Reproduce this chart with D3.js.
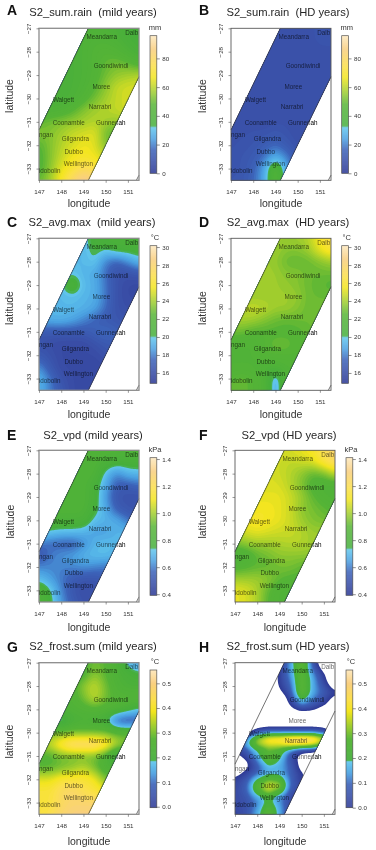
<!DOCTYPE html>
<html><head><meta charset="utf-8">
<script src="https://cdn.jsdelivr.net/npm/d3@7"></script>
<style>
html,body{margin:0;padding:0;background:#fff}
svg{display:block;filter:blur(.35px)}
text{font-family:"Liberation Sans",Arial,sans-serif;white-space:pre}
</style></head><body><div id="c"></div>
<script>
const lons=[147,147.5,148,148.5,149,149.5,150,150.5,151,151.5];
const lats=[-27,-27.5,-28,-28.5,-29,-29.5,-30,-30.5,-31,-31.5,-32,-32.5,-33,-33.5];
const latsFine=[-27,-27.25,-27.5,-27.75,-28,-28.25,-28.5,-28.75,-29,-29.25,-29.5,-29.75,-30,-30.25,-30.5,-30.75,-31,-31.25,-31.5,-31.75,-32,-32.25,-32.5,-32.75,-33,-33.25,-33.5];
const lonTicks=[147,148,149,150,151];
const latTicks=[-27,-28,-29,-30,-31,-32,-33];
const regionOutline=[[149.22,-27],[151.5,-27],[151.5,-29.07],[149.22,-33.5],[147,-33.5],[147,-31.35]];
const townNames=["Meandarra","Dalb","Goondiwindi","Moree","Walgett","Narrabri","Coonamble","Gunnedah","ngan","Gilgandra","Dubbo","Wellington","idobolin"];
const townLons=[149.82,151.17,150.24,149.81,148.1,149.75,148.34,150.23,147.32,148.64,148.56,148.77,147.48];
const townLats=[-27.36,-27.19,-28.6,-29.51,-30.06,-30.36,-31.03,-31.03,-31.57,-31.73,-32.27,-32.8,-33.11];
const rainTicks=[0,20,40,60,80], tempTicks=[16,18,20,22,24,26,28,30], vpdTicks=[.4,.6,.8,1,1.2,1.4], frostTicks=[0,.1,.2,.3,.4,.5];
const colourStops=[0,.09,.17,.25,.3,.335,.345,.5,.6,.7,.78,.9,1];
const colourValues=["#303c96","#3a50a8","#3c62b8","#4a9fe0","#56b6e8","#62c6ec","#45ae3c","#55b436","#a5cf2c","#f3e51e","#fbe04a","#f9cf80","#fde9c0"];

const rainMild=[
[40,40,40,40,40,42,42,40,37,34],
[40,40,40,40,42,44,44,42,38,35],
[40,40,40,40,42,46,48,46,42,38],
[40,40,40,40,42,46,50,52,50,45],
[40,40,40,40,42,46,52,56,58,60],
[40,40,40,40,43,48,55,62,64,64],
[38,38,39,41,46,52,58,62,64,64],
[42,43,44,48,54,58,60,62,64,64],
[50,52,54,56,58,60,58,56,58,60],
[54,54,58,62,64,66,52,48,50,52],
[48,54,60,64,68,66,54,50,50,50],
[46,54,62,68,70,68,62,55,50,50],
[46,55,66,72,78,76,66,55,50,50],
[50,58,70,82,92,85,70,55,50,50]];
const rainHD=[
[9,9,9,9,9,9,9,10,11,11],
[9,9,9,9,9,9,9,10,11,11],
[9,9,9,9,9,9,9,9,10,10],
[9,9,9,9,9,9,9,9,9,9],
[9,9,9,9,9,9,9,9,9,9],
[9,9,9,9,9,9,9,9,9,9],
[9,9,9,9,9,9,9,9,9,9],
[9,9,9,9,9,9,9,9,9,9],
[9,9,9,9,10,10,9,9,9,9],
[10,10,11,11,13,11,9,9,9,9],
[10,11,12,15,18,14,10,9,9,9],
[11,12,14,19,28,21,12,9,9,9],
[11,12,16,26,47,26,12,9,9,9],
[12,13,17,27,47,27,12,9,9,9]];
const tempMild=[
[19.5,19.5,19.5,19.5,19.7,20.8,21,21,21,21],
[19.5,19.5,19.5,19.5,19.6,20.6,20.1,20.8,20.8,20.9],
[19.5,19.5,19.5,19.6,19.6,20.1,18.2,17.5,18.5,19.6],
[19.5,19.5,19.6,20,19.5,19.2,17.8,16.5,16.5,17],
[19.5,19.5,19.9,21.5,19.7,19.3,18,16.5,16,15.8],
[19.5,19.5,19.6,19.8,19.5,19.3,18,16.5,16,16],
[19.5,19.5,19.6,19.6,19.4,19,17.8,16.5,16.3,16],
[19,19.3,19.4,19,18.3,17.5,17,16.8,16.5,16],
[17,17,17,17,17,17.5,18,17.5,17,17],
[16.5,16.2,16,16,16,16.5,17,17,17,17],
[17,16.5,16,16,16,16,16.5,17,17,17],
[18.5,17,16,16,16,15.8,16,16,16,16],
[19.5,18,16.5,16,16,15.8,16,16,16,16],
[19.5,18.2,17,16,16,16,16,16,16,16]];
const tempHD=[
[23.5,23.5,23.5,24,24,24,24,24.5,26,27],
[23.5,23.5,23.5,24,24,23.5,23.5,24,25.5,26.5],
[24,24,24,24,23.8,23,22.8,23,23.5,24],
[24,24,24,24,24,23.5,23.5,23,23,23],
[24,24,24,24,24,23.8,23.5,23,22.8,22.5],
[24,24,24,24,24,24,23.8,23,23,23],
[24,24.5,24.8,24.5,24,24,23.5,23,23,23],
[24,24.2,24,23.5,23,22.8,23,23,23,23],
[23,23,22.5,22.5,22.5,22.5,22.5,23,23,23],
[22,22,22,22.5,23,23,22.5,22.5,22.5,22.5],
[22,22,22,22.5,22.5,22.5,22.5,22.5,22.5,22.5],
[22,22,22,21.5,21.5,22,22,22,22,22],
[22.5,23,22.5,22,19,22,22,22,22,22],
[23,23,22.5,22,19,22,22,22,22,22]];
const vpdMild=[
[.85,.85,.85,.85,.85,.85,.85,.85,.85,.85],
[.85,.85,.85,.85,.85,.85,.82,.8,.8,.8],
[.85,.85,.85,.85,.85,.85,.72,.62,.7,.71],
[.85,.85,.85,.85,.85,.8,.68,.55,.55,.58],
[.85,.85,.85,.85,.85,.8,.65,.52,.5,.5],
[.85,.85,.85,.85,.85,.78,.68,.55,.52,.5],
[.82,.82,.82,.82,.82,.72,.7,.68,.6,.55],
[.76,.74,.72,.72,.7,.66,.66,.7,.7,.7],
[.6,.58,.56,.55,.62,.7,.72,.7,.7,.7],
[.52,.6,.64,.66,.7,.72,.72,.7,.7,.7],
[.62,.62,.62,.62,.64,.62,.6,.6,.6,.6],
[.72,.66,.6,.55,.52,.52,.55,.55,.55,.55],
[.84,.76,.62,.52,.48,.48,.5,.5,.5,.5],
[.84,.78,.65,.55,.5,.5,.5,.5,.5,.5]];
const vpdHD=[
[1.08,1.08,1.08,1.08,1.08,1.08,1.1,1.14,1.22,1.28],
[1.08,1.08,1.08,1.08,1.06,1.04,1.06,1.08,1.18,1.25],
[1.08,1.08,1.08,1.08,1.06,1.03,.98,.92,.95,1.05],
[1.08,1.08,1.08,1.08,1.08,1.03,.96,.88,.85,.85],
[1.1,1.1,1.1,1.1,1.1,1.06,1,.92,.88,.85],
[1.1,1.1,1.12,1.12,1.1,1.06,.98,.95,.92,.9],
[1.1,1.12,1.14,1.12,1.1,1.06,1,.96,.95,.92],
[1.03,1.08,1.1,1.08,1.06,1.06,1.03,1,1,1],
[.95,.98,1,1,1.02,1.03,1.03,1,1,1],
[.82,.85,.92,.95,.98,.98,.98,.98,.98,.98],
[.88,.9,.92,.92,.95,.95,.92,.9,.9,.9],
[1,1,1,.98,.92,.9,.9,.9,.9,.9],
[1.1,1.08,1.02,.92,.86,.86,.88,.9,.9,.9],
[1.1,1.08,1.02,.9,.86,.88,.9,.9,.9,.9]];
const frostMild=[
[.26,.26,.26,.26,.26,.3,.28,.24,.17,.14],
[.24,.24,.24,.24,.26,.32,.28,.24,.22,.2],
[.24,.24,.25,.26,.32,.36,.3,.25,.23,.23],
[.24,.24,.25,.26,.3,.36,.3,.27,.27,.27],
[.24,.24,.24,.25,.26,.27,.26,.25,.22,.18],
[.21,.2,.15,.22,.23,.22,.2,.08,.06,.08],
[.3,.3,.3,.3,.3,.3,.3,.28,.28,.28],
[.34,.36,.44,.5,.5,.5,.44,.35,.3,.3],
[.26,.27,.3,.3,.3,.3,.25,.14,.2,.2],
[.28,.28,.3,.32,.35,.3,.24,.24,.24,.24],
[.38,.38,.42,.42,.42,.4,.3,.3,.3,.3],
[.42,.42,.46,.48,.44,.42,.4,.4,.4,.4],
[.42,.42,.46,.48,.48,.48,.46,.46,.46,.46],
[.42,.44,.48,.5,.5,.5,.5,.5,.5,.5]];
const frostHD=[
[-.1,-.1,-.1,-.1,0,.15,.32,.08,-.1,-.1],
[-.1,-.1,-.1,-.1,.01,.15,.3,.1,-.04,-.1],
[-.1,-.1,-.1,-.1,.02,.14,.3,.14,.01,-.1],
[-.1,-.1,-.1,-.1,.02,.12,.3,.16,.03,-.1],
[-.1,-.1,-.1,-.1,.01,.1,.3,.16,.06,-.05],
[-.1,-.1,-.1,-.1,-.02,.08,.3,.16,.08,.02],
[-.1,-.1,-.1,-.1,-.08,.05,.24,.13,.06,-.02],
[-.1,-.1,-.1,-.1,-.1,.02,.14,.08,.03,-.08],
[-.1,-.1,-.1,-.1,-.1,-.03,.04,.02,-.05,-.1],
[-.1,-.1,-.1,-.1,-.1,-.08,-.08,-.08,-.08,-.1],
[-.1,-.1,-.1,-.1,-.1,-.1,-.1,-.1,-.1,-.1],
[-.1,-.1,-.03,0,0,0,0,0,-.02,-.1],
[-.1,-.04,.09,.14,.14,.14,.14,.14,.1,-.05],
[-.1,.12,.32,.42,.44,.48,.5,.48,.36,.1],
[-.01,.16,.32,.38,.38,.42,.42,.38,.28,.08],
[.01,.08,.2,.28,.26,.14,.05,.03,-.01,-.1],
[-.04,.04,.16,.3,.22,.06,-.04,-.06,-.1,-.1],
[-.08,-.02,.11,.24,.18,.07,-.04,-.06,-.1,-.1],
[-.08,-.02,.08,.17,.16,.09,-.03,-.06,-.1,-.1],
[-.04,.03,.1,.17,.17,.09,.01,-.05,-.1,-.1],
[.02,.07,.2,.29,.26,.1,.01,-.04,-.1,-.1],
[.03,.09,.27,.37,.34,.1,.03,-.04,-.1,-.1],
[.04,.09,.25,.35,.27,.08,.01,-.04,-.1,-.1],
[.04,.07,.16,.23,.14,.04,-.01,-.05,-.1,-.1],
[.04,.06,.12,.22,.14,.04,-.01,-.05,-.1,-.1],
[.04,.06,.14,.27,.16,.03,-.01,-.05,-.1,-.1],
[.02,.06,.16,.3,.16,.03,-.01,-.05,-.1,-.1]];

const specs=[
{letter:"A",title:"S2_sum.rain  (mild years)",unit:"mm",grid:rainMild,gLats:lats,dom:[0,95.8],ticks:rainTicks,fmt:d3.format("d"),x0:39,top:28.3,bot:180.3,bar:[150,35.7,173.3],tc:93,ty:12,letterX:7,letterY:15,latX:9,latY:96,lonY:207,tickY:194,frame:"g"},
{letter:"B",title:"S2_sum.rain  (HD years)",unit:"mm",grid:rainHD,gLats:lats,dom:[0,95.8],ticks:rainTicks,fmt:d3.format("d"),x0:231,top:28.3,bot:180.3,bar:[341.7,35.7,173.3],tc:288,ty:12,letterX:199,letterY:15,latX:202.7,latY:96,lonY:207,tickY:194,frame:"d"},
{letter:"C",title:"S2_avg.max  (mild years)",unit:"\u00b0C",grid:tempMild,gLats:lats,dom:[14.85,30.15],ticks:tempTicks,fmt:d3.format("d"),x0:39,top:238.3,bot:390.3,bar:[150,245.7,383.3],tc:92,ty:222,letterX:7,letterY:227,latX:9,latY:308,lonY:418,tickY:404,frame:"g"},
{letter:"D",title:"S2_avg.max  (HD years)",unit:"\u00b0C",grid:tempHD,gLats:lats,dom:[14.85,30.15],ticks:tempTicks,fmt:d3.format("d"),x0:231,top:238.3,bot:390.3,bar:[341.7,245.7,383.3],tc:288,ty:222,letterX:199,letterY:227,latX:202.7,latY:308,lonY:418,tickY:404,frame:"d"},
{letter:"E",title:"S2_vpd (mild years)",unit:"kPa",grid:vpdMild,gLats:lats,dom:[.392,1.41],ticks:vpdTicks,fmt:d3.format(".1f"),x0:39,top:450.3,bot:602,bar:[150,457.7,595.3],tc:93,ty:435,letterX:7,letterY:440,latX:10,latY:521.7,lonY:631,tickY:616,frame:"g"},
{letter:"F",title:"S2_vpd (HD years)",unit:"kPa",grid:vpdHD,gLats:lats,dom:[.392,1.41],ticks:vpdTicks,fmt:d3.format(".1f"),x0:235,top:450.3,bot:602,bar:[346,457.7,595.3],tc:289,ty:435,letterX:199,letterY:440,latX:202.7,latY:521.7,lonY:631,tickY:616,frame:"d"},
{letter:"G",title:"S2_frost.sum (mild years)",unit:"\u00b0C",grid:frostMild,gLats:lats,dom:[-.004,.554],ticks:frostTicks,fmt:d3.format(".1f"),x0:39,top:662.7,bot:814.3,bar:[150,670,807.7],tc:93,ty:646,letterX:7,letterY:652,latX:9,latY:741.7,lonY:845,tickY:828,frame:"g"},
{letter:"H",title:"S2_frost.sum (HD years)",unit:"\u00b0C",grid:frostHD,gLats:latsFine,dom:[0,.554],ticks:frostTicks,fmt:d3.format(".1f"),x0:235,top:662.7,bot:814.3,bar:[346,670,807.7],tc:288,ty:646,letterX:199,letterY:652,latX:202.7,latY:741.7,lonY:845,tickY:828,frame:"d"}
];

const svg=d3.select("#c").append("svg").attr("width",376).attr("height",850);
const defs=svg.append("defs");
const ramp=d3.scaleLinear().domain(colourStops).range(colourValues).interpolate(d3.interpolateRgb).clamp(true);
const STEP=.05, NX=91, NY=131;

function sample(spec){
  const g=spec.grid, la=spec.gLats, out=new Float64Array(NX*NY);
  const dLat=la[0]-la[1];
  for(let j=0;j<NY;j++){
    const lat=-27-j*STEP, fy=Math.min(la.length-1.0001,(-27-lat)/dLat), y0=Math.floor(fy), ty=fy-y0;
    for(let i=0;i<NX;i++){
      const fx=Math.min(8.9999,i*STEP/.5), x0=Math.floor(fx), tx=fx-x0;
      out[j*NX+i]=(g[y0][x0]*(1-tx)+g[y0][x0+1]*tx)*(1-ty)+(g[y0+1][x0]*(1-tx)+g[y0+1][x0+1]*tx)*ty;
    }
  }
  return {data:out,width:NX,height:NY};
}

specs.forEach((s,idx)=>{
  const x=d3.scaleLinear().domain([147,151.5]).range([s.x0,s.x0+100]);
  const y=d3.scaleLinear().domain([-27,-33.5]).range([s.top,s.bot]);
  const t=d3.scaleLinear().domain(s.dom).range([0,1]);
  const col=v=>ramp(t(v));
  const g=svg.append("g");
  const clipId="clip"+s.letter;
  const line=d3.line().x(d=>x(d[0])).y(d=>y(d[1]));
  defs.append("clipPath").attr("id",clipId).append("path").attr("d",line(regionOutline)+"Z");

  const field=sample(s);
  d3.blur2(field, s.letter==="H"?1.4:3);
  const thr=d3.range(0,65).map(i=>s.dom[0]+(s.dom[1]-s.dom[0])*i/64);
  const ext=d3.extent(field.data);
  const first=s.letter==="H"?thr:[Math.min(ext[0],s.dom[0])-1].concat(thr.slice(1));
  const contours=d3.contours().size([NX,NY]).thresholds(first)(Array.from(field.data));
  const path=d3.geoPath(d3.geoTransform({point(a,b){this.stream.point(x(147+(a-.5)*STEP),y(-27-(b-.5)*STEP));}}));
  g.append("g").attr("clip-path",`url(#${clipId})`).selectAll("path").data(contours).join("path")
    .attr("d",path).attr("fill",d=>col(Math.max(d.value,s.dom[0]))).attr("stroke","none");

  const edges=g.append("g").attr("fill","none").attr("stroke","#3a3a3a").attr("stroke-width",.7);
  edges.append("path").attr("d",line([regionOutline[0],regionOutline[5]]));
  edges.append("path").attr("d",line([regionOutline[2],regionOutline[3]]));
  edges.append("path").attr("d",line([[151.38,-33.5],[151.5,-33.28]]));

  g.append("rect").attr("x",x(147)).attr("y",s.top).attr("width",100).attr("height",s.bot-s.top)
    .attr("fill","none").attr("stroke",s.frame==="g"?"#8c8c8c":"#5a5a5a").attr("stroke-width",s.frame==="g"?1.3:.9);

  const tn=g.append("g").attr("font-size",6.3).attr("text-anchor","middle").attr("fill","#000");
  townNames.forEach((n,i)=>{
    const te=tn.append("text").attr("x",x(townLons[i])).attr("y",y(townLats[i])+2.2);
    if(n==="Gunnedah"){
      te.append("tspan").attr("fill-opacity",.62).text("Gunned");
      te.append("tspan").text("ah");
    } else te.attr("fill-opacity",.62).text(n);
  });

  const ax=g.append("g").attr("transform",`translate(0,${s.bot})`)
    .call(d3.axisBottom(x).tickValues(lonTicks).tickSize(2.5).tickPadding(0).tickFormat(d3.format("d")));
  ax.select(".domain").remove();
  ax.selectAll("line").attr("stroke","#555").attr("stroke-width",.6);
  ax.selectAll("text").attr("y",s.tickY-s.bot).attr("dy",0).attr("font-size",6.2).attr("fill","#333").style("font-family",'"Liberation Sans"');
  const ay=g.append("g").attr("transform",`translate(${s.x0},0)`)
    .call(d3.axisLeft(y).tickValues(latTicks).tickSize(2.5).tickPadding(0).tickFormat(d3.format("d")));
  ay.select(".domain").remove();
  ay.selectAll("line").attr("stroke","#555").attr("stroke-width",.6);
  ay.selectAll("text").attr("x",0).attr("dy",0).attr("y",0).attr("text-anchor","middle").attr("font-size",6.2).attr("fill","#333").style("font-family",'"Liberation Sans"')
    .attr("transform",`translate(-8.5,0) rotate(-90)`);

  g.append("text").attr("x",s.tc).attr("y",s.ty+4).attr("text-anchor","middle").attr("font-size",11.2).attr("fill","#262626").text(s.title);
  g.append("text").attr("x",s.letterX).attr("y",s.letterY).attr("font-size",14).attr("font-weight","bold").attr("fill","#111").text(s.letter);
  g.append("text").attr("text-anchor","middle").attr("x",(s.x0+50)).attr("y",s.lonY).attr("font-size",10.5).attr("fill","#333").text("longitude");
  g.append("text").attr("text-anchor","middle").attr("transform",`translate(${s.latX+3.5},${s.latY}) rotate(-90)`).attr("font-size",10.5).attr("fill","#333").text("latitude");

  const [bx,bt,bb]=s.bar, bw=6.8;
  const by=d3.scaleLinear().domain(s.dom).range([bb,bt]);
  const strips=d3.range(0,138).map(i=>s.dom[0]+(s.dom[1]-s.dom[0])*(i+.5)/138);
  const sh=(bb-bt)/138;
  g.append("g").selectAll("rect").data(strips).join("rect")
    .attr("x",bx).attr("width",bw).attr("y",d=>by(d)-sh/2-.1).attr("height",sh+.2).attr("fill",col);
  g.append("rect").attr("x",bx).attr("y",bt).attr("width",bw).attr("height",bb-bt).attr("fill","none").attr("stroke","#555").attr("stroke-width",.7);
  const bax=g.append("g").attr("transform",`translate(${bx+bw},0)`)
    .call(d3.axisRight(by).tickValues(s.ticks).tickSize(3).tickPadding(2.5).tickFormat(s.fmt));
  bax.select(".domain").remove();
  bax.selectAll("line").attr("stroke","#444").attr("stroke-width",.6);
  bax.selectAll("text").attr("font-size",6.2).attr("fill","#333").style("font-family",'"Liberation Sans"');
  g.append("text").attr("x",bx+5).attr("y",bt-6).attr("text-anchor","middle").attr("font-size",7.5).attr("fill","#333").text(s.unit);
});
</script></body></html>
